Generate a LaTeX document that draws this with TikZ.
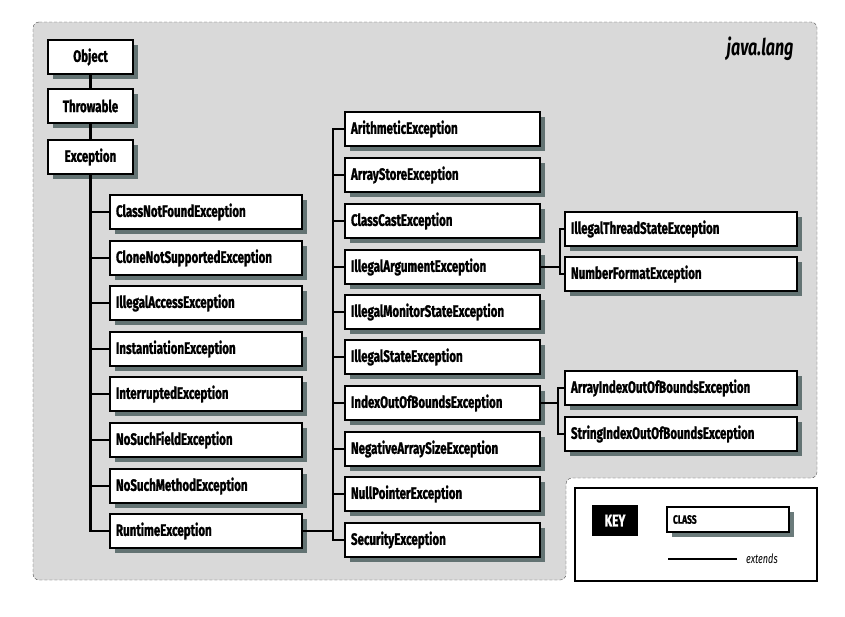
\documentclass[tikz,border=0pt]{standalone}
\usepackage{fontspec}
\setmainfont{Fira Sans}
\newfontfamily\boxfont[FakeStretch=0.7, BoldFeatures={FakeBold=1.2}]{Fira Sans}
\usetikzlibrary{shadows,positioning}

\definecolor{bggray}{RGB}{217,217,217}
\definecolor{shadowc}{RGB}{70,90,90}

\tikzset{
  cls/.style={draw=black, line width=2.5pt, fill=white, rectangle,
    minimum height=34pt, inner xsep=6pt, inner ysep=0pt,
    font=\boxfont\bfseries\fontsize{16.5}{17}\selectfont,
    drop shadow={shadow xshift=5pt, shadow yshift=-5pt, fill=shadowc, opacity=0.8}},
  topcls/.style={cls, minimum width=85pt, text width=73pt, align=center},
  cola/.style={cls, text width=180pt, align=left},
  colb/.style={cls, text width=183pt, align=left},
  colc/.style={cls, text width=220pt, align=left},
  ext/.style={line width=2.5pt},
}

\begin{document}
\begin{tikzpicture}[x=1pt, y=-1pt]
    \useasboundingbox (0,0) rectangle (845,616);

    % Hintergrund des Pakets
    \draw[densely dashed, draw=black!70, thin, fill=bggray, rounded corners=6]
        (33,22) -- (817,22) -- (817,478) -- (566,478) -- (566,580) -- (33,580) -- cycle;
    \node[anchor=east, font=\boxfont\bfseries\itshape\fontsize{23}{23}\selectfont] (pkg) at (797,49) {java.lang};

    % Wurzelklassen
    \node[topcls] (obj) at (90.5,57) {Object};
    \node[topcls] (thr) at (90.5,106) {Throwable};
    \node[topcls] (exc) at (90.5,157) {Exception};

    % Erste Spalte
    \node[cola] (cnf) at (206,212) {ClassNotFoundException};
    \node[cola] (cns) at (206,258) {CloneNotSupportedException};
    \node[cola] (iae) at (206,303) {IllegalAccessException};
    \node[cola] (ine) at (206,349) {InstantiationException};
    \node[cola] (ire) at (206,394) {InterruptedException};
    \node[cola] (nsf) at (206,440) {NoSuchFieldException};
    \node[cola] (nsm) at (206,486) {NoSuchMethodException};
    \node[cola] (rte) at (206,531) {RuntimeException};

    % Zweite Spalte
    \node[colb] (ari) at (442.5,129) {ArithmeticException};
    \node[colb] (ase) at (442.5,175) {ArrayStoreException};
    \node[colb] (cce) at (442.5,221) {ClassCastException};
    \node[colb] (iar) at (442.5,267) {IllegalArgumentException};
    \node[colb] (ims) at (442.5,312) {IllegalMonitorStateException};
    \node[colb] (ise) at (442.5,357) {IllegalStateException};
    \node[colb] (iob) at (442.5,403) {IndexOutOfBoundsException};
    \node[colb] (nas) at (442.5,449) {NegativeArraySizeException};
    \node[colb] (npe) at (442.5,494) {NullPointerException};
    \node[colb] (sec) at (442.5,540) {SecurityException};

    % Dritte Spalte
    \node[colc] (its) at (681,229) {IllegalThreadStateException};
    \node[colc] (nfe) at (681,274) {NumberFormatException};
    \node[colc] (aio) at (681,388) {ArrayIndexOutOfBoundsException};
    \node[colc] (sio) at (681,434) {StringIndexOutOfBoundsException};

    % Verbindungen
    \draw[ext] (obj) -- (thr);
    \draw[ext] (thr) -- (exc);
    \foreach \n in {cnf,cns,iae,ine,ire,nsf,nsm,rte}
        \draw[ext] (exc.south) |- (\n.west);
    \coordinate (rtj) at (333,531);
    \draw[ext] (rte.east) -- (rtj);
    \foreach \n in {ari,ase,cce,iar,ims,ise,iob,nas,npe,sec}
        \draw[ext] (rtj) |- (\n.west);
    \coordinate (iaj) at (560,267);
    \draw[ext] (iar.east) -- (iaj);
    \draw[ext] (iaj) |- (its.west);
    \draw[ext] (iaj) |- (nfe.west);
    \coordinate (ioj) at (558,403);
    \draw[ext] (iob.east) -- (ioj);
    \draw[ext] (ioj) |- (aio.west);
    \draw[ext] (ioj) |- (sio.west);

    % Legende
    \draw[fill=white, line width=1.2pt] (575,488) rectangle (817,581);
    \node[fill=black, text=white, minimum width=46pt, minimum height=31pt,
        font=\boxfont\bfseries\fontsize{17}{17}\selectfont] (key) at (615,520.5) {KEY};
    \node[cls, line width=2.2pt, minimum width=120pt, minimum height=25pt, text width=110pt, align=left,
        font=\boxfont\bfseries\fontsize{12}{12}\selectfont] (keycls) at (728,519.5) {CLASS};
    \coordinate (kla) at (668,559);
    \coordinate (klb) at (737,559);
    \draw[line width=1.5pt] (kla) -- (klb) node[right=5pt, font=\boxfont\itshape\fontsize{13}{13}\selectfont] (keyext) {extends};
\end{tikzpicture}
\end{document}
